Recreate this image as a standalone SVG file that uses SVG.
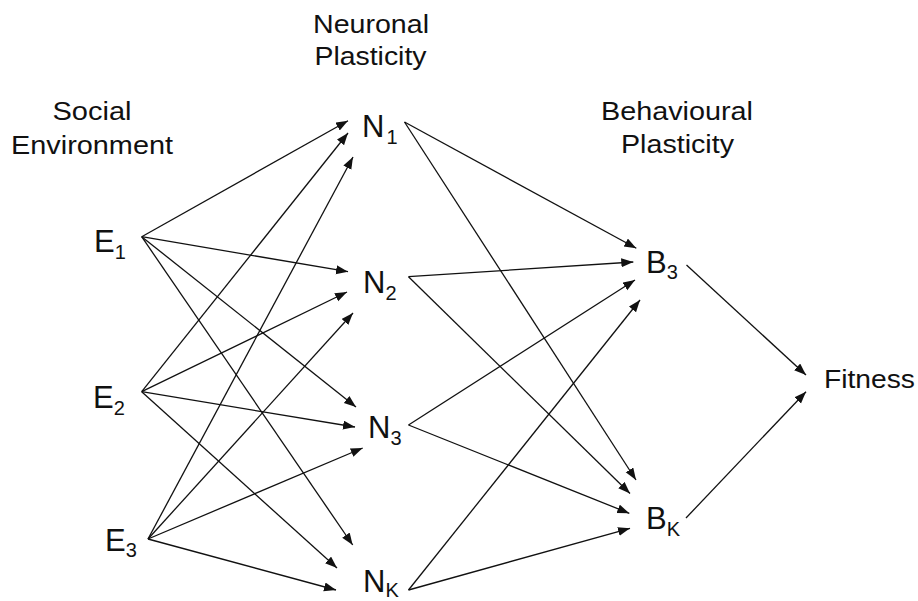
<svg xmlns="http://www.w3.org/2000/svg" width="918" height="601" viewBox="0 0 918 601">
<style>
  text { font-family: "Liberation Sans", Arial, sans-serif; fill: #111; }
  .hdr { font-size: 26px; text-anchor: middle; }
  .node { font-size: 31px; }
  .sub { font-size: 20px; }
  .fit { font-size: 26px; }
  #connectors line { stroke: #111; stroke-width: 1.3; fill: none; marker-end: url(#arrow); }
</style>
<defs>
  <marker id="arrow" markerUnits="userSpaceOnUse" markerWidth="13" markerHeight="10" refX="12" refY="4.5" orient="auto">
    <path d="M0,0 L12,4.5 L0,9 z" fill="#111"/>
  </marker>
</defs>
<rect width="918" height="601" fill="#fff"/>

<g id="headers">
  <g id="hdr-social">
    <text class="hdr" x="92" y="120" textLength="79" lengthAdjust="spacingAndGlyphs">Social</text>
    <text class="hdr" x="92" y="153.5" textLength="162" lengthAdjust="spacingAndGlyphs">Environment</text>
  </g>
  <g id="hdr-neuronal">
    <text class="hdr" x="371" y="32.5" textLength="116" lengthAdjust="spacingAndGlyphs">Neuronal</text>
    <text class="hdr" x="370.5" y="65" textLength="112" lengthAdjust="spacingAndGlyphs">Plasticity</text>
  </g>
  <g id="hdr-behavioural">
    <text class="hdr" x="677" y="120" textLength="152" lengthAdjust="spacingAndGlyphs">Behavioural</text>
    <text class="hdr" x="677.5" y="152.7" textLength="113" lengthAdjust="spacingAndGlyphs">Plasticity</text>
  </g>
</g>

<g id="connectors">
  <line x1="141.7" y1="236.7" x2="348" y2="120.7"/>
  <line x1="141.7" y1="236.7" x2="348" y2="271.7"/>
  <line x1="141.7" y1="236.7" x2="356" y2="407"/>
  <line x1="141.7" y1="236.7" x2="352.7" y2="545"/>

  <line x1="141.7" y1="391.7" x2="348" y2="133"/>
  <line x1="141.7" y1="391.7" x2="347" y2="292"/>
  <line x1="141.7" y1="391.7" x2="355" y2="427"/>
  <line x1="141.7" y1="391.7" x2="337" y2="568"/>

  <line x1="148" y1="539" x2="353" y2="157"/>
  <line x1="148" y1="539" x2="353" y2="313"/>
  <line x1="148" y1="539" x2="362.7" y2="448"/>
  <line x1="148" y1="539" x2="336" y2="590"/>

  <line x1="404.5" y1="122" x2="636.3" y2="248.3"/>
  <line x1="404.5" y1="122" x2="636" y2="480"/>
  <line x1="408.5" y1="276.7" x2="633.3" y2="262"/>
  <line x1="408.5" y1="276.7" x2="630" y2="493.5"/>
  <line x1="408.5" y1="425" x2="635" y2="280"/>
  <line x1="408.5" y1="425" x2="629.3" y2="513.3"/>
  <line x1="408.5" y1="590" x2="640" y2="300"/>
  <line x1="408.5" y1="590" x2="630" y2="528.3"/>

  <line x1="686.5" y1="265" x2="806" y2="375"/>
  <line x1="686" y1="518" x2="806" y2="391.7"/>
</g>

<g id="node-E1"><text class="node" x="94" y="252">E<tspan class="sub" dy="7">1</tspan></text></g>
<g id="node-E2"><text class="node" x="93" y="408">E<tspan class="sub" dy="7">2</tspan></text></g>
<g id="node-E3"><text class="node" x="105" y="551">E<tspan class="sub" dy="6">3</tspan></text></g>
<g id="node-N1"><text class="node" x="362" y="137">N<tspan class="sub" dx="2" dy="7">1</tspan></text></g>
<g id="node-N2"><text class="node" x="363" y="293">N<tspan class="sub" dy="7">2</tspan></text></g>
<g id="node-N3"><text class="node" x="368" y="438">N<tspan class="sub" dy="7">3</tspan></text></g>
<g id="node-NK"><text class="node" x="363" y="592">N<tspan class="sub" dy="5">K</tspan></text></g>
<g id="node-B3"><text class="node" x="646" y="273">B<tspan class="sub" dy="6">3</tspan></text></g>
<g id="node-BK"><text class="node" x="646" y="529">B<tspan class="sub" dy="7">K</tspan></text></g>
<g id="node-Fitness"><text class="fit" x="824" y="387.5" textLength="91" lengthAdjust="spacingAndGlyphs">Fitness</text></g>
</svg>
